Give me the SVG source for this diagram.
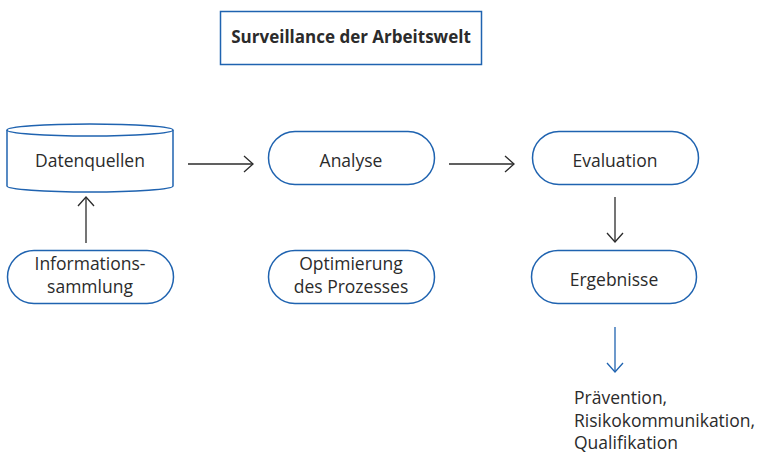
<svg xmlns="http://www.w3.org/2000/svg" width="763" height="453" viewBox="0 0 763 453">
<defs>
<style>
.box{fill:#fff;stroke:#1f63b0;stroke-width:1.5}
.t{font-family:"Open Sans","Noto Sans",sans-serif;font-size:17.5px;fill:#2b2b2b;text-anchor:middle}
.tl{font-family:"Open Sans","Noto Sans",sans-serif;font-size:17.5px;fill:#2b2b2b}
.tb{font-family:"Open Sans","Noto Sans",sans-serif;font-size:17px;font-weight:bold;fill:#2b2b2b;text-anchor:middle}
.ln{fill:none;stroke:#2b2b2b;stroke-width:1.3}
.lb{fill:none;stroke:#1f63b0;stroke-width:1.3}
</style>
<marker id="ah" markerWidth="12" markerHeight="18" refX="10" refY="9" orient="auto" markerUnits="userSpaceOnUse">
<path d="M1,1 L10,9 L1,17" fill="none" stroke="#2b2b2b" stroke-width="1.3"/>
</marker>
<marker id="ahb" markerWidth="12" markerHeight="18" refX="10" refY="9" orient="auto" markerUnits="userSpaceOnUse">
<path d="M1,1 L10,9 L1,17" fill="none" stroke="#1f63b0" stroke-width="1.3"/>
</marker>
</defs>
<rect width="763" height="453" fill="#fff"/>
<g id="title">
<rect class="box" x="220.5" y="11.5" width="261" height="53"/>
<text class="tb" x="351" y="43">Surveillance der Arbeitswelt</text>
</g>
<g id="datenquellen">
<path class="box" d="M7,130 A83,6 0 0 1 173,130 L173,186 A83,6 0 0 1 7,186 Z"/>
<path class="box" d="M7,130 A83,6 0 0 0 173,130" fill="none"/>
<text class="t" x="90" y="167">Datenquellen</text>
</g>
<g id="informationssammlung">
<rect class="box" x="7.5" y="250.5" width="166" height="53" rx="26.5"/>
<text class="t" x="90" y="270">Informations-</text>
<text class="t" x="90" y="293">sammlung</text>
</g>
<g id="analyse">
<rect class="box" x="268.5" y="131.5" width="166" height="53" rx="26.5"/>
<text class="t" x="351" y="167">Analyse</text>
</g>
<g id="optimierung">
<rect class="box" x="268.5" y="250.5" width="166" height="53" rx="26.5"/>
<text class="t" x="351" y="270">Optimierung</text>
<text class="t" x="351" y="293">des Prozesses</text>
</g>
<g id="evaluation">
<rect class="box" x="532.5" y="131.5" width="166" height="53" rx="26.5"/>
<text class="t" x="615" y="167">Evaluation</text>
</g>
<g id="ergebnisse">
<rect class="box" x="531.5" y="250.5" width="165" height="53" rx="26.5"/>
<text class="t" x="614" y="286">Ergebnisse</text>
</g>
<g id="outcomes">
<text class="tl" x="574" y="404">Prävention,</text>
<text class="tl" x="574" y="427">Risikokommunikation,</text>
<text class="tl" x="574" y="449">Qualifikation</text>
</g>
<g id="connectors">
<line class="ln" x1="188" y1="164" x2="253" y2="164" marker-end="url(#ah)"/>
<line class="ln" x1="449" y1="164" x2="514" y2="164" marker-end="url(#ah)"/>
<line class="ln" x1="86" y1="243" x2="86" y2="197" marker-end="url(#ah)"/>
<line class="ln" x1="615" y1="197" x2="615" y2="242" marker-end="url(#ah)"/>
<line class="lb" x1="615" y1="327" x2="615" y2="372" marker-end="url(#ahb)"/>
</g>
</svg>
